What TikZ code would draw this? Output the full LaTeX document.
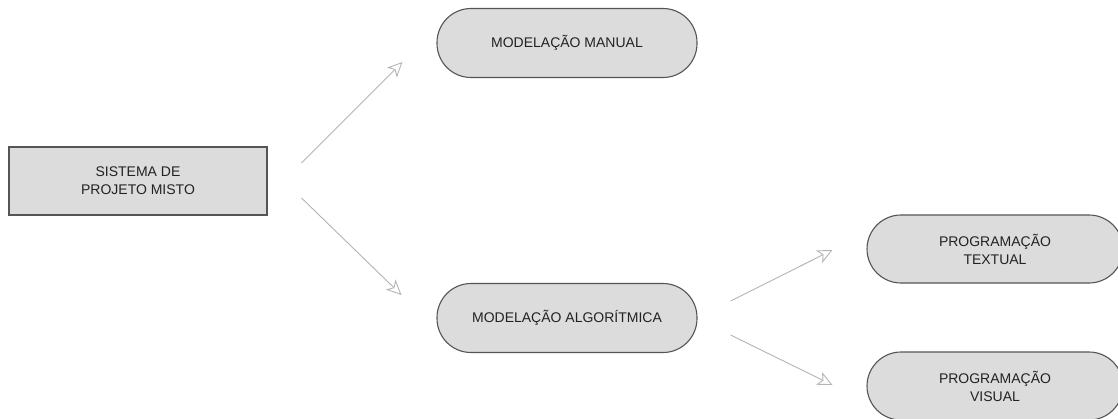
\documentclass[tikz,border=0pt]{standalone}
\usepackage{fontspec}
\setmainfont{Liberation Sans}
\usetikzlibrary{arrows.meta,calc}
\definecolor{boxfill}{HTML}{DCDCDC}
\definecolor{boxline}{HTML}{555555}
\definecolor{arrline}{HTML}{B4B4B4}
\definecolor{txt}{HTML}{222222}
\begin{document}
\begin{tikzpicture}[x=1pt,y=-1pt,
  base/.style={draw=boxline,fill=boxfill,line width=1.1pt,inner sep=0pt,align=center,
    text=txt,font=\fontsize{14}{18}\selectfont},
  rectbox/.style={base,minimum width=258pt,minimum height=68pt},
  pill/.style={base,minimum width=260pt,minimum height=69pt,rounded corners=34pt},
  conn/.style={draw=arrline,line width=0.9pt,
    -{Stealth[open,length=15pt,width=14pt,inset=4pt,fill=white]}}]
\useasboundingbox (0,0) rectangle (1118,418);
\fill[white] (0,0) rectangle (1118,418);
\node[rectbox] (sis) at (138,181) {SISTEMA DE\\PROJETO MISTO};
\node[pill] (man) at (567,43) {MODELAÇÃO MANUAL};
\node[pill] (alg) at (567,318) {MODELAÇÃO ALGORÍTMICA};
\node[pill,minimum width=256pt,minimum height=68pt] (tex) at (995,249) {PROGRAMAÇÃO\\TEXTUAL};
\node[pill,minimum width=256pt,minimum height=68pt] (vis) at (995,386) {PROGRAMAÇÃO\\VISUAL};
\coordinate (a1s) at ($(sis.east)+(34,-18)$);
\coordinate (a1e) at ($(man.west)+(-34,19)$);
\coordinate (a2s) at ($(sis.east)+(34,17)$);
\coordinate (a2e) at ($(alg.west)+(-35,-23)$);
\coordinate (a3s) at ($(alg.east)+(33,-17)$);
\coordinate (a3e) at ($(tex.west)+(-34,1)$);
\coordinate (a4s) at ($(alg.east)+(33,17)$);
\coordinate (a4e) at ($(vis.west)+(-34,-1)$);
\draw[conn] (a1s) -- (a1e);
\draw[conn] (a2s) -- (a2e);
\draw[conn] (a3s) -- (a3e);
\draw[conn] (a4s) -- (a4e);
\end{tikzpicture}
\end{document}
